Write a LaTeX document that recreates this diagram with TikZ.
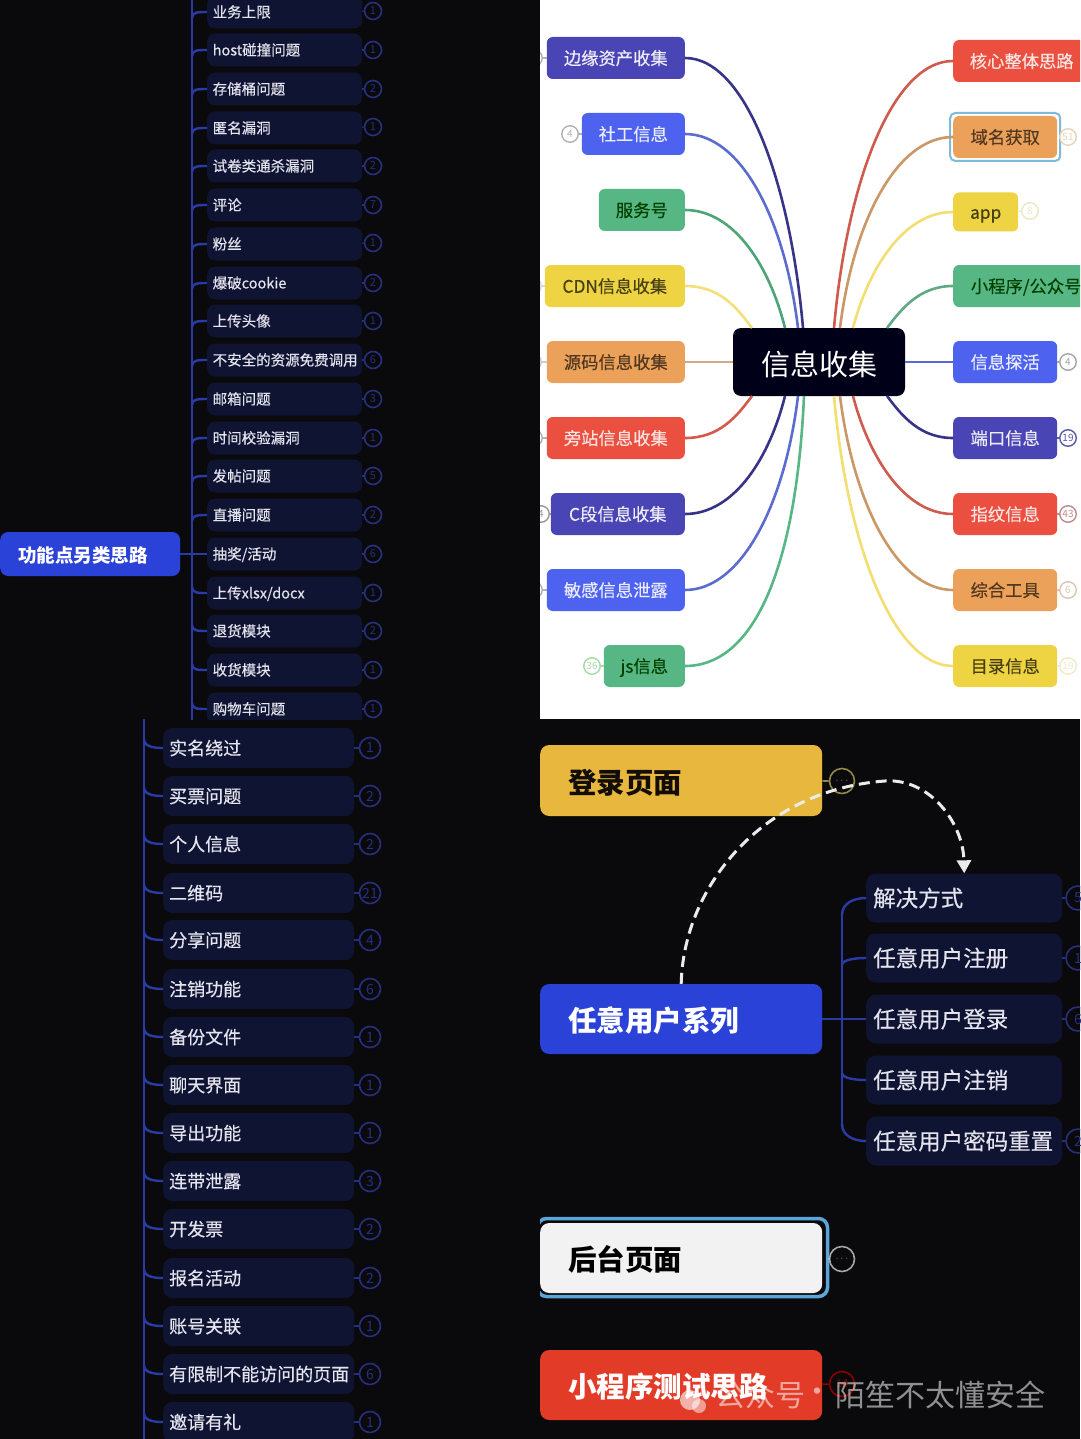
\documentclass[tikz,border=0pt]{standalone}
\usepackage{fontspec}
\setmainfont{Noto Sans CJK SC}
\newfontfamily\heavyfont{Noto Sans CJK SC}[FakeBold=0.35]
\usetikzlibrary{arrows.meta}

\definecolor{bgdark}{HTML}{0A0A0C}
\definecolor{leafnavy}{HTML}{101433}
\definecolor{linkblue}{HTML}{2A3AA6}
\definecolor{tallyblue}{HTML}{262F80}
\definecolor{rootblue}{HTML}{2A42D8}
\definecolor{leaftext}{HTML}{E4E4EE}

\definecolor{mmpurple}{HTML}{4A45B5}
\definecolor{mmblue}{HTML}{4D63F0}
\definecolor{mmgreen}{HTML}{56B784}
\definecolor{mmyellow}{HTML}{EED342}
\definecolor{mmorange}{HTML}{EBA159}
\definecolor{mmred}{HTML}{EA4F3F}
\definecolor{logingold}{HTML}{E8B83E}
\definecolor{minired}{HTML}{E23C28}
\definecolor{framecyan}{HTML}{7FBAD6}
\definecolor{framesky}{HTML}{5AA6D8}

\tikzset{
  leafa/.style={anchor=west,fill=leafnavy,text=leaftext,rounded corners=8,minimum height=33,
    inner ysep=0,inner xsep=5.5,text width=144,text height=12.6,text depth=1.7,align=left,
    font=\fontsize{14.5}{15}\selectfont\heavyfont},
  leafb/.style={anchor=west,fill=leafnavy,text=leaftext,rounded corners=9,minimum height=40,
    inner ysep=0,inner xsep=6,text width=179,text height=16,text depth=2.2,align=left,
    font=\fontsize{18}{18}\selectfont\heavyfont},
  leafc/.style={anchor=west,fill=leafnavy,text=leaftext,rounded corners=10,minimum height=49,
    inner ysep=0,inner xsep=7,text width=182,align=left,font=\fontsize{22.5}{23}\selectfont\heavyfont},
  tallya/.style={circle,draw=tallyblue,text=tallyblue,fill=bgdark,line width=1.6,minimum size=17,
    inner sep=0,font=\fontsize{11}{11}\selectfont},
  tallyb/.style={circle,draw=tallyblue,text=tallyblue,fill=bgdark,line width=1.6,minimum size=21,
    inner sep=0,font=\fontsize{14}{14}\selectfont},
  tallyc/.style={circle,draw=tallyblue,text=tallyblue,fill=bgdark,line width=1.6,minimum size=24,
    inner sep=0,font=\fontsize{14}{14}\selectfont},
  branch/.style={draw=linkblue,line width=2.4},
  stub/.style={draw=tallyblue,line width=1.6},
  topic/.style={rounded corners=6,minimum height=42,inner sep=0,text height=15.6,text depth=2.1,
    font=\fontsize{17.3}{18}\selectfont\heavyfont},
  topicpurple/.style={topic,fill=mmpurple,text=white!90!mmpurple},
  topicblue/.style={topic,fill=mmblue,text=white!88!mmblue},
  topicgreen/.style={topic,fill=mmgreen,text=green!25!black},
  topicyellow/.style={topic,fill=mmyellow,text=black!70!mmyellow},
  topicorange/.style={topic,fill=mmorange,text=black!65!mmorange},
  topicred/.style={topic,fill=mmred,text=white!85!mmred},
  ring/.style={circle,draw=#1,text=#1,fill=white,line width=1.4,minimum size=16.5,inner sep=0,
    font=\fontsize{10}{10}\selectfont},
  ringstub/.style={draw=#1,line width=1.4},
  mmlink/.style={draw=#1,line width=2.6},
  bigtopic/.style={anchor=west,rounded corners=9,minimum width=282,inner ysep=0,inner xsep=28,
    text width=226,text height=29,text depth=3.4,align=left,font=\fontsize{28.5}{29}\selectfont\bfseries},
  dotring/.style={circle,draw=#1,fill=bgdark,line width=1.6,minimum size=25,inner sep=0,
    text=gray,font=\fontsize{11}{11}\selectfont},
  jump/.style={draw=white!92!black,line width=3,dash pattern=on 11pt off 6pt,
    -{Triangle[length=13pt,width=14pt,fill=white!92!black]}},
  wmark/.style={anchor=west,inner sep=0,text=white,text opacity=0.55,font=\fontsize{30}{30}\selectfont}
}

\begin{document}
\begin{tikzpicture}[x=1pt,y=-1pt]

\useasboundingbox (0,0) rectangle (1080,1439);

%% - Draw panels
%% - --------------------------------------

\fill[bgdark] (0,0) rectangle (1080,1439);
\fill[white] (540,0) rectangle (1080,719);

%% - Upper list
%% - --------------------------------------

\begin{scope}
\clip (0,0) rectangle (540,719);

\node[anchor=west,fill=rootblue,text=white,rounded corners=8,minimum width=180,minimum height=44,
  inner sep=0,inner xsep=18,text width=144,text height=18.3,text depth=2.2,align=left,font=\fontsize{18.5}{19}\selectfont\bfseries] (rootfunc) at (0,554) {功能点另类思路};

\coordinate (spinea) at (192,-5);
\coordinate (spineb) at (192,725);
\draw[branch] (spinea) -- (spineb);

\node[leafa] (la1) at (207,12) {业务上限};
\node[leafa] (la2) at (207,50) {host碰撞问题};
\node[leafa] (la3) at (207,89) {存储桶问题};
\node[leafa] (la4) at (207,128) {匿名漏洞};
\node[leafa] (la5) at (207,166) {试卷类通杀漏洞};
\node[leafa] (la6) at (207,205) {评论};
\node[leafa] (la7) at (207,244) {粉丝};
\node[leafa] (la8) at (207,283) {爆破cookie};
\node[leafa] (la9) at (207,321) {上传头像};
\node[leafa] (la10) at (207,360) {不安全的资源免费调用};
\node[leafa] (la11) at (207,399) {邮箱问题};
\node[leafa] (la12) at (207,438) {时间校验漏洞};
\node[leafa] (la13) at (207,476) {发帖问题};
\node[leafa] (la14) at (207,515) {直播问题};
\node[leafa] (la15) at (207,554) {抽奖/活动};
\node[leafa] (la16) at (207,593) {上传xlsx/docx};
\node[leafa] (la17) at (207,631) {退货模块};
\node[leafa] (la18) at (207,670) {收货模块};
\node[leafa] (la19) at (207,709) {购物车问题};

\node[tallya] (ta1) at (373,11) {1};
\node[tallya] (ta2) at (373,50) {1};
\node[tallya] (ta3) at (373,89) {2};
\node[tallya] (ta4) at (373,127) {1};
\node[tallya] (ta5) at (373,166) {2};
\node[tallya] (ta6) at (373,205) {7};
\node[tallya] (ta7) at (373,243) {1};
\node[tallya] (ta8) at (373,283) {2};
\node[tallya] (ta9) at (373,321) {1};
\node[tallya] (ta10) at (373,360) {6};
\node[tallya] (ta11) at (373,399) {3};
\node[tallya] (ta12) at (373,438) {1};
\node[tallya] (ta13) at (373,476) {5};
\node[tallya] (ta14) at (373,515) {2};
\node[tallya] (ta15) at (373,554) {6};
\node[tallya] (ta16) at (373,593) {1};
\node[tallya] (ta17) at (373,631) {2};
\node[tallya] (ta18) at (373,670) {1};
\node[tallya] (ta19) at (373,709) {1};

\draw[stub] (la1) -- (ta1);
\draw[stub] (la2) -- (ta2);
\draw[stub] (la3) -- (ta3);
\draw[stub] (la4) -- (ta4);
\draw[stub] (la5) -- (ta5);
\draw[stub] (la6) -- (ta6);
\draw[stub] (la7) -- (ta7);
\draw[stub] (la8) -- (ta8);
\draw[stub] (la9) -- (ta9);
\draw[stub] (la10) -- (ta10);
\draw[stub] (la11) -- (ta11);
\draw[stub] (la12) -- (ta12);
\draw[stub] (la13) -- (ta13);
\draw[stub] (la14) -- (ta14);
\draw[stub] (la15) -- (ta15);
\draw[stub] (la16) -- (ta16);
\draw[stub] (la17) -- (ta17);
\draw[stub] (la18) -- (ta18);
\draw[stub] (la19) -- (ta19);

%% - branches above the root come up from below
\draw[branch] (la1.west -| spinea) ++(0,6) .. controls +(0,-6) and +(-9,0) .. (la1.west);
\draw[branch] (la2.west -| spinea) ++(0,6) .. controls +(0,-6) and +(-9,0) .. (la2.west);
\draw[branch] (la3.west -| spinea) ++(0,6) .. controls +(0,-6) and +(-9,0) .. (la3.west);
\draw[branch] (la4.west -| spinea) ++(0,6) .. controls +(0,-6) and +(-9,0) .. (la4.west);
\draw[branch] (la5.west -| spinea) ++(0,6) .. controls +(0,-6) and +(-9,0) .. (la5.west);
\draw[branch] (la6.west -| spinea) ++(0,6) .. controls +(0,-6) and +(-9,0) .. (la6.west);
\draw[branch] (la7.west -| spinea) ++(0,6) .. controls +(0,-6) and +(-9,0) .. (la7.west);
\draw[branch] (la8.west -| spinea) ++(0,6) .. controls +(0,-6) and +(-9,0) .. (la8.west);
\draw[branch] (la9.west -| spinea) ++(0,6) .. controls +(0,-6) and +(-9,0) .. (la9.west);
\draw[branch] (la10.west -| spinea) ++(0,6) .. controls +(0,-6) and +(-9,0) .. (la10.west);
\draw[branch] (la11.west -| spinea) ++(0,6) .. controls +(0,-6) and +(-9,0) .. (la11.west);
\draw[branch] (la12.west -| spinea) ++(0,6) .. controls +(0,-6) and +(-9,0) .. (la12.west);
\draw[branch] (la13.west -| spinea) ++(0,6) .. controls +(0,-6) and +(-9,0) .. (la13.west);
\draw[branch] (la14.west -| spinea) ++(0,6) .. controls +(0,-6) and +(-9,0) .. (la14.west);
\draw[branch] (rootfunc.east) -- (la15.west);
\draw[branch] (la16.west -| spinea) ++(0,-6) .. controls +(0,6) and +(-9,0) .. (la16.west);
\draw[branch] (la17.west -| spinea) ++(0,-6) .. controls +(0,6) and +(-9,0) .. (la17.west);
\draw[branch] (la18.west -| spinea) ++(0,-6) .. controls +(0,6) and +(-9,0) .. (la18.west);
\draw[branch] (la19.west -| spinea) ++(0,-6) .. controls +(0,6) and +(-9,0) .. (la19.west);

\end{scope}

%% - Lower list
%% - --------------------------------------

\coordinate (spinec) at (144,719);
\coordinate (spined) at (144,1439);
\draw[branch] (spinec) -- (spined);

\node[leafb] (lb1) at (163,748) {实名绕过};
\node[leafb] (lb2) at (163,796) {买票问题};
\node[leafb] (lb3) at (163,844) {个人信息};
\node[leafb] (lb4) at (163,893) {二维码};
\node[leafb] (lb5) at (163,940) {分享问题};
\node[leafb] (lb6) at (163,989) {注销功能};
\node[leafb] (lb7) at (163,1037) {备份文件};
\node[leafb] (lb8) at (163,1085) {聊天界面};
\node[leafb] (lb9) at (163,1133) {导出功能};
\node[leafb] (lb10) at (163,1181) {连带泄露};
\node[leafb] (lb11) at (163,1229) {开发票};
\node[leafb] (lb12) at (163,1278) {报名活动};
\node[leafb] (lb13) at (163,1326) {账号关联};
\node[leafb] (lb14) at (163,1374) {有限制不能访问的页面};
\node[leafb] (lb15) at (163,1422) {邀请有礼};

\node[tallyb] (tb1) at (370,748) {1};
\node[tallyb] (tb2) at (370,796) {2};
\node[tallyb] (tb3) at (370,844) {2};
\node[tallyb] (tb4) at (370,893) {21};
\node[tallyb] (tb5) at (370,940) {4};
\node[tallyb] (tb6) at (370,989) {6};
\node[tallyb] (tb7) at (370,1037) {1};
\node[tallyb] (tb8) at (370,1085) {1};
\node[tallyb] (tb9) at (370,1133) {1};
\node[tallyb] (tb10) at (370,1181) {3};
\node[tallyb] (tb11) at (370,1229) {2};
\node[tallyb] (tb12) at (370,1278) {2};
\node[tallyb] (tb13) at (370,1326) {1};
\node[tallyb] (tb14) at (370,1374) {6};
\node[tallyb] (tb15) at (370,1422) {1};

\draw[stub] (lb1) -- (tb1);
\draw[stub] (lb2) -- (tb2);
\draw[stub] (lb3) -- (tb3);
\draw[stub] (lb4) -- (tb4);
\draw[stub] (lb5) -- (tb5);
\draw[stub] (lb6) -- (tb6);
\draw[stub] (lb7) -- (tb7);
\draw[stub] (lb8) -- (tb8);
\draw[stub] (lb9) -- (tb9);
\draw[stub] (lb10) -- (tb10);
\draw[stub] (lb11) -- (tb11);
\draw[stub] (lb12) -- (tb12);
\draw[stub] (lb13) -- (tb13);
\draw[stub] (lb14) -- (tb14);
\draw[stub] (lb15) -- (tb15);

\draw[branch] (lb1.west -| spinec) ++(0,-9) .. controls +(0,7) and +(-11,0) .. (lb1.west);
\draw[branch] (lb2.west -| spinec) ++(0,-9) .. controls +(0,7) and +(-11,0) .. (lb2.west);
\draw[branch] (lb3.west -| spinec) ++(0,-9) .. controls +(0,7) and +(-11,0) .. (lb3.west);
\draw[branch] (lb4.west -| spinec) ++(0,-9) .. controls +(0,7) and +(-11,0) .. (lb4.west);
\draw[branch] (lb5.west -| spinec) ++(0,-9) .. controls +(0,7) and +(-11,0) .. (lb5.west);
\draw[branch] (lb6.west -| spinec) ++(0,-9) .. controls +(0,7) and +(-11,0) .. (lb6.west);
\draw[branch] (lb7.west -| spinec) ++(0,-9) .. controls +(0,7) and +(-11,0) .. (lb7.west);
\draw[branch] (lb8.west -| spinec) ++(0,-9) .. controls +(0,7) and +(-11,0) .. (lb8.west);
\draw[branch] (lb9.west -| spinec) ++(0,-9) .. controls +(0,7) and +(-11,0) .. (lb9.west);
\draw[branch] (lb10.west -| spinec) ++(0,-9) .. controls +(0,7) and +(-11,0) .. (lb10.west);
\draw[branch] (lb11.west -| spinec) ++(0,-9) .. controls +(0,7) and +(-11,0) .. (lb11.west);
\draw[branch] (lb12.west -| spinec) ++(0,-9) .. controls +(0,7) and +(-11,0) .. (lb12.west);
\draw[branch] (lb13.west -| spinec) ++(0,-9) .. controls +(0,7) and +(-11,0) .. (lb13.west);
\draw[branch] (lb14.west -| spinec) ++(0,-9) .. controls +(0,7) and +(-11,0) .. (lb14.west);
\draw[branch] (lb15.west -| spinec) ++(0,-9) .. controls +(0,7) and +(-11,0) .. (lb15.west);

%% - Mind map on white
%% - --------------------------------------

\begin{scope}
\clip (540,0) rectangle (1080,719);

\node[rounded corners=8,fill=blue!10!black,text=white,minimum width=172,minimum height=68,inner sep=0,
  text height=29.5,text depth=3.5,font=\fontsize{29}{30}\selectfont] (collect) at (819,362) {信息收集};

%% - left side
\node[topicpurple,anchor=east,minimum width=138] (edge) at (685,58) {边缘资产收集};
\node[topicblue,anchor=east,minimum width=103] (social) at (685,134) {社工信息};
\node[topicgreen,anchor=east,minimum width=86] (service) at (685,210) {服务号};
\node[topicyellow,anchor=east,minimum width=140] (cdn) at (685,286) {CDN信息收集};
\node[topicorange,anchor=east,minimum width=138] (source) at (685,362) {源码信息收集};
\node[topicred,anchor=east,minimum width=138] (sidesite) at (685,438) {旁站信息收集};
\node[topicpurple,anchor=east,minimum width=134] (csegment) at (685,514) {C段信息收集};
\node[topicblue,anchor=east,minimum width=138] (leak) at (685,590) {敏感信息泄露};
\node[topicgreen,anchor=east,minimum width=81] (jsinfo) at (685,666) {js信息};

%% - right side
\node[topicred,anchor=west,minimum width=137] (core) at (953,61) {核心整体思路};
\node[topicorange,anchor=west,minimum width=104] (domain) at (953,137) {域名获取};
\node[topicyellow,anchor=west,minimum width=65,minimum height=39] (appinfo) at (953,212) {app};
\node[topicgreen,anchor=west,minimum width=146] (miniapp) at (953,286) {小程序/公众号};
\node[topicblue,anchor=west,minimum width=104] (probe) at (953,362) {信息探活};
\node[topicpurple,anchor=west,minimum width=104] (port) at (953,438) {端口信息};
\node[topicred,anchor=west,minimum width=104] (finger) at (953,514) {指纹信息};
\node[topicorange,anchor=west,minimum width=104] (tools) at (953,590) {综合工具};
\node[topicyellow,anchor=west,minimum width=104] (dirinfo) at (953,666) {目录信息};

%% - selection frame
\node[draw=framecyan,line width=2,rounded corners=5,minimum width=110,minimum height=48,inner sep=0] (domainframe) at (domain.center) {};

%% - counters
\node[ring=gray!60] (cedge) at (534,58) {};
\node[ring=gray!60] (csocial) at (570,134) {4};
\node[ring=gray!30] (ccdn) at (533,286) {};
\node[ring=gray!40] (csource) at (533,362) {};
\node[ring=gray!60] (csidesite) at (534,438) {};
\node[ring=gray!80] (ccsegment) at (541,514) {4};
\node[ring=gray!60] (cleak) at (534,590) {};
\node[ring=green!40!gray!50] (cjs) at (592,666) {36};
\node[ring=orange!50!gray!35] (cdomain) at (1068,137) {51};
\node[ring=yellow!50!gray!35] (capp) at (1030,211) {8};
\node[ring=gray!70] (cprobe) at (1068,362) {4};
\node[ring=blue!30!gray] (cport) at (1068,438) {19};
\node[ring=red!30!gray!70] (cfinger) at (1068,514) {43};
\node[ring=orange!40!gray!45] (ctools) at (1068,590) {6};
\node[ring=yellow!50!gray!30] (cdir) at (1068,666) {19};

\draw[ringstub=gray!60] (cedge) -- (edge);
\draw[ringstub=gray!60] (csocial) -- (social);
\draw[ringstub=gray!30] (ccdn) -- (cdn);
\draw[ringstub=gray!40] (csource) -- (source);
\draw[ringstub=gray!60] (csidesite) -- (sidesite);
\draw[ringstub=gray!80] (ccsegment) -- (csegment);
\draw[ringstub=gray!60] (cleak) -- (leak);
\draw[ringstub=green!40!gray!50] (cjs) -- (jsinfo);
\draw[ringstub=orange!50!gray!35] (domainframe) -- (cdomain);
\draw[ringstub=yellow!50!gray!35] (appinfo) -- (capp);
\draw[ringstub=gray!70] (probe) -- (cprobe);
\draw[ringstub=blue!30!gray] (port) -- (cport);
\draw[ringstub=red!30!gray!70] (finger) -- (cfinger);
\draw[ringstub=orange!40!gray!45] (tools) -- (ctools);
\draw[ringstub=yellow!50!gray!30] (dirinfo) -- (cdir);

%% - curve ends on the centre box
\coordinate (ea) at (803,328);
\coordinate (eb) at (798,328);
\coordinate (ec) at (785,328);
\coordinate (ed) at (752,328);
\coordinate (ee) at (752,396);
\coordinate (ef) at (785,396);
\coordinate (eg) at (798,396);
\coordinate (eh) at (804,396);
\coordinate (ek) at (834,328);
\coordinate (el) at (840,328);
\coordinate (em) at (853,328);
\coordinate (en) at (887,328);
\coordinate (eo) at (887,396);
\coordinate (ep) at (853,396);
\coordinate (eq) at (840,396);
\coordinate (er) at (834,396);

\draw[mmlink=mmpurple!75!black] (edge.east) .. controls +(60,0) and +(-13,-148) .. (ea);
\draw[mmlink=mmblue!70!gray] (social.east) .. controls +(57,0) and +(-13,-107) .. (eb);
\draw[mmlink=mmgreen!90!black] (service.east) .. controls +(50,0) and +(-15,-60) .. (ec);
\draw[mmlink=mmyellow!70!white] (cdn.east) .. controls +(35,0) and +(-15,-20) .. (ed);
\draw[mmlink=mmorange!60!gray!80] (source) -- (collect);
\draw[mmlink=mmred!80!gray] (sidesite.east) .. controls +(35,0) and +(-15,20) .. (ee);
\draw[mmlink=mmpurple!75!black] (csegment.east) .. controls +(50,0) and +(-15,60) .. (ef);
\draw[mmlink=mmblue!70!gray] (leak.east) .. controls +(57,0) and +(-13,107) .. (eg);
\draw[mmlink=mmgreen] (jsinfo.east) .. controls +(75,0) and +(-7,156) .. (eh);

\draw[mmlink=mmred!75!gray] (core.west) .. controls +(-60,0) and +(13,-148) .. (ek);
\draw[mmlink=mmorange!70!gray] (domain.west) .. controls +(-57,0) and +(13,-105) .. (el);
\draw[mmlink=mmyellow!75!white] (appinfo.west) .. controls +(-50,0) and +(15,-58) .. (em);
\draw[mmlink=mmgreen!75!gray] (miniapp.west) .. controls +(-33,0) and +(15,-20) .. (en);
\draw[mmlink=mmblue!80!gray] (probe) -- (collect);
\draw[mmlink=mmpurple!75!black] (port.west) .. controls +(-33,0) and +(15,20) .. (eo);
\draw[mmlink=mmred!75!gray] (finger.west) .. controls +(-50,0) and +(15,58) .. (ep);
\draw[mmlink=mmorange!70!gray] (tools.west) .. controls +(-57,0) and +(13,105) .. (eq);
\draw[mmlink=mmyellow!75!white] (dirinfo.west) .. controls +(-60,0) and +(13,148) .. (er);

\end{scope}

%% - Lower right
%% - --------------------------------------

\begin{scope}
\clip (540,719) rectangle (1080,1439);

\node[bigtopic,fill=logingold,text=black!90!brown,minimum height=71] (login) at (540,780.5) {登录页面};
\node[dotring=yellow!50!black] (clogin) at (842,781) {$\cdots$};
\draw[stub,draw=yellow!50!black] (login) -- (clogin);

\node[bigtopic,fill=rootblue,text=white,minimum height=70] (anyuser) at (540,1019) {任意用户系列};

\node[draw=framesky,line width=3.5,rounded corners=9,minimum width=290,minimum height=78,inner sep=0] (backframe) at (682.5,1257.5) {};
\node[bigtopic,fill=white!95!black,text=black,minimum height=70] (backend) at (540,1258) {后台页面};
\node[dotring=gray!70] (cbackend) at (842,1259) {$\cdots$};
\draw[stub,draw=white] (backframe) -- (cbackend);

\node[bigtopic,fill=minired,text=white,minimum height=70] (miniprog) at (540,1385) {小程序测试思路};
\node[dotring=red!55!black,text=red!55!black] (cminiprog) at (842,1384) {14};
\draw[stub,draw=red!55!black] (miniprog) -- (cminiprog);

\node[leafc] (lc1) at (866,898) {解决方式};
\node[leafc] (lc2) at (866,958) {任意用户注册};
\node[leafc] (lc3) at (866,1019) {任意用户登录};
\node[leafc] (lc4) at (866,1080) {任意用户注销};
\node[leafc] (lc5) at (866,1141) {任意用户密码重置};

\node[tallyc] (tc1) at (1078,898) {5};
\node[tallyc] (tc2) at (1078,958) {1};
\node[tallyc] (tc3) at (1078,1019) {6};
\node[tallyc] (tc5) at (1078,1141) {2};

\draw[stub] (lc1) -- (tc1);
\draw[stub] (lc2) -- (tc2);
\draw[stub] (lc3) -- (tc3);
\draw[stub] (lc5) -- (tc5);

\coordinate (spinee) at (842,915);
\coordinate (spinef) at (842,1124);
\draw[branch] (spinee) -- (spinef);
\draw[branch] (spinee) .. controls +(0,-12) and +(-12,0) .. (lc1.west);
\draw[branch] (lc2.west -| spinee) ++(0,7) .. controls +(0,-5) and +(-12,0) .. (lc2.west);
\draw[branch] (anyuser.east) -- (lc3.west);
\draw[branch] (lc4.west -| spinee) ++(0,-7) .. controls +(0,5) and +(-12,0) .. (lc4.west);
\draw[branch] (spinef) .. controls +(0,12) and +(-12,0) .. (lc5.west);

%% - jump link over the boxes
\coordinate (hop) at (885,781);
\draw[jump] (anyuser.north) .. controls +(2,-95) and +(-125,9) .. (hop) .. controls +(45,-3) and +(-1,-50) .. (lc1.north);

\end{scope}

%% - Watermark
%% - --------------------------------------

\fill[white,opacity=0.6] (690,1400) circle (10);
\fill[white,opacity=0.5] (699,1406) circle (7);
\node[wmark] (markwx) at (715,1395) {公众号};
\node[wmark] (markdot) at (802,1395) {·};
\node[wmark] (markname) at (835,1395) {陌笙不太懂安全};

\end{tikzpicture}
\end{document}
